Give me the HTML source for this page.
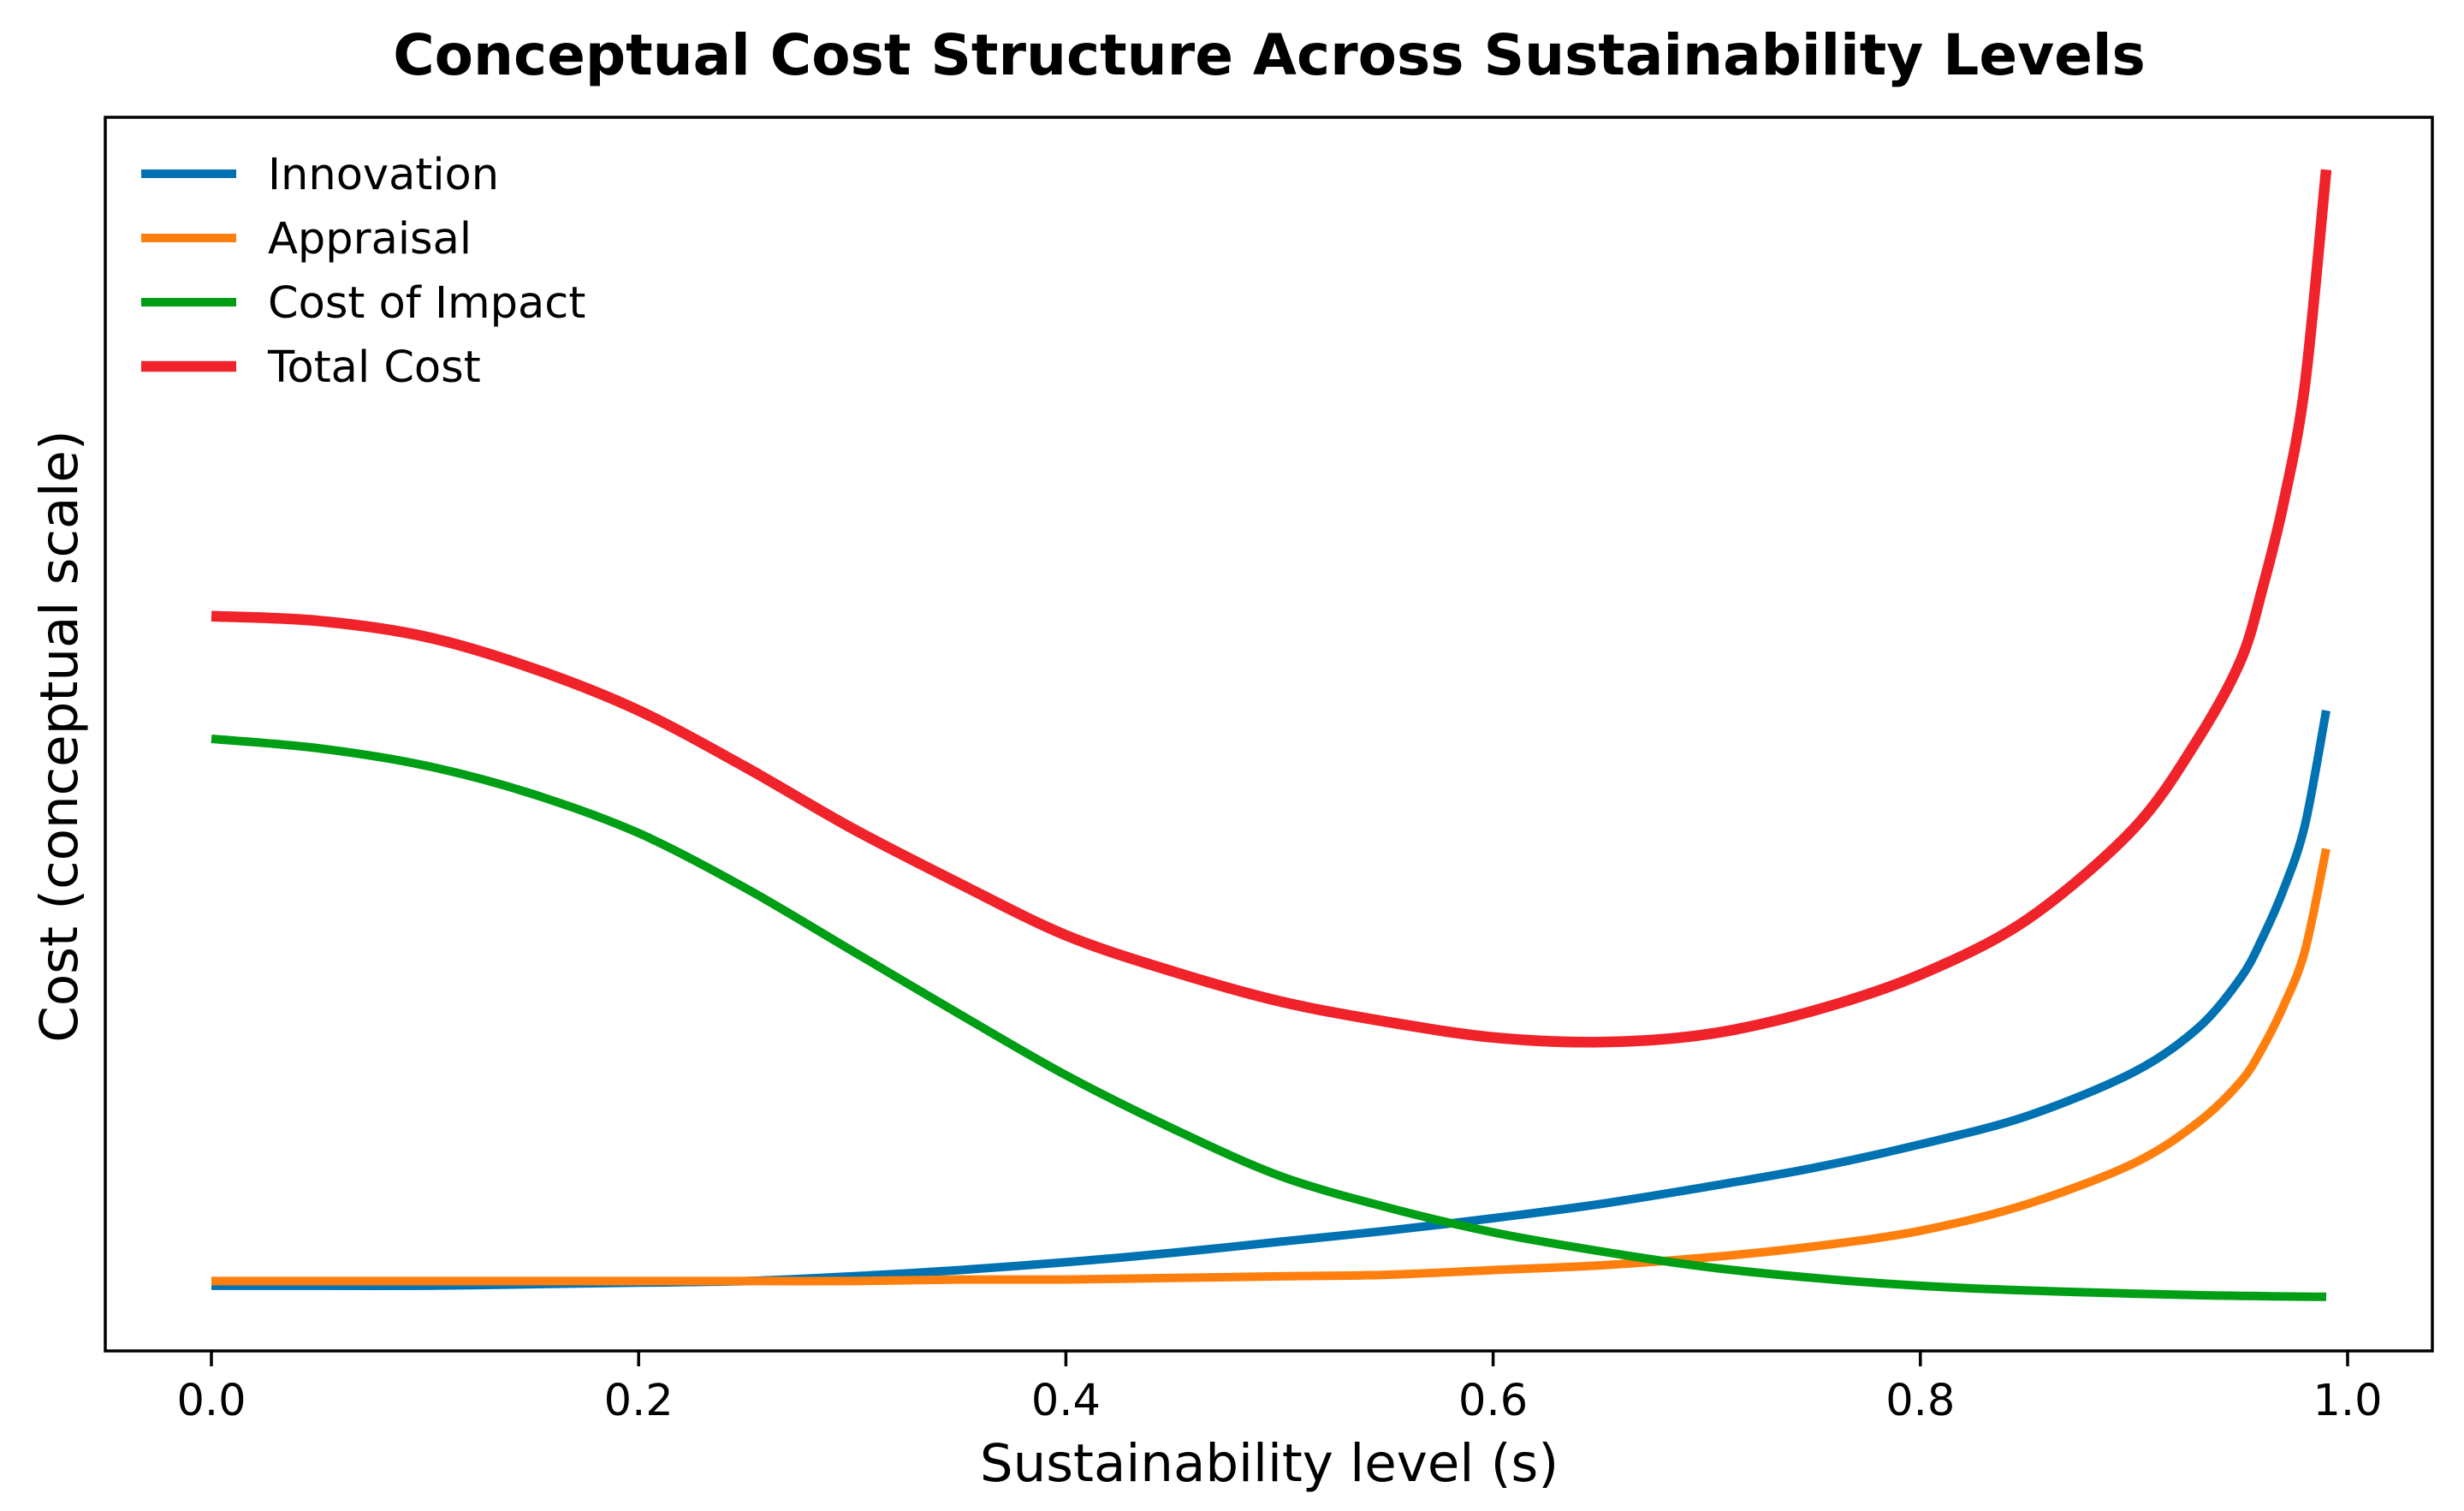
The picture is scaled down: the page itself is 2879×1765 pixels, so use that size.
<!DOCTYPE html>
<html><head><meta charset="utf-8"><style>
html,body{margin:0;padding:0;background:#fff}
svg{display:block;font-family:"DejaVu Sans","Liberation Sans",sans-serif}
</style></head><body>
<svg id="chart" width="2879" height="1765" viewBox="0 0 2879 1765" xmlns="http://www.w3.org/2000/svg">
<rect x="0" y="0" width="2879" height="1765" fill="#fff"/>
<text x="1483" y="87" text-anchor="middle" font-size="66" font-weight="bold">Conceptual Cost Structure Across Sustainability Levels</text>
<g id="plot"></g>
<rect x="123" y="137" width="2719" height="1441" fill="none" stroke="#000" stroke-width="3.5"/>
<g id="xticks"></g>
<text x="1483" y="1730" text-anchor="middle" font-size="61">Sustainability level (s)</text>
<text transform="translate(90,860) rotate(-90)" text-anchor="middle" font-size="61">Cost (conceptual scale)</text>
<g id="legend"></g>
</svg>
<script>
const sVals=[0,0.05,0.1,0.15,0.2,0.25,0.3,0.35,0.4,0.45,0.5,0.55,0.6,0.65,0.7,0.75,0.8,0.85,0.9,0.93,0.95,0.96,0.97,0.98,0.99];
const innovation=[0.12,0.12,0.12,0.13,0.14,0.15,0.18,0.22,0.27,0.33,0.40,0.47,0.55,0.64,0.75,0.87,1.02,1.20,1.48,1.76,2.08,2.33,2.64,3.05,3.78];
const appraisal=[0.15,0.15,0.15,0.15,0.15,0.15,0.15,0.16,0.16,0.17,0.18,0.19,0.22,0.25,0.30,0.37,0.47,0.64,0.90,1.16,1.42,1.63,1.90,2.25,2.90];
const impact=[3.60,3.54,3.43,3.25,3.00,2.65,2.25,1.85,1.46,1.12,0.82,0.62,0.46,0.34,0.24,0.17,0.12,0.09,0.07,0.06,0.056,0.054,0.052,0.051,0.05];
const total=[4.38,4.35,4.25,4.05,3.78,3.42,3.03,2.68,2.35,2.12,1.93,1.80,1.70,1.67,1.72,1.87,2.10,2.45,3.03,3.60,4.10,4.55,5.10,5.85,7.22];
const xTicks=[0,0.2,0.4,0.6,0.8,1.0];
const xTickLabels=["0.0","0.2","0.4","0.6","0.8","1.0"];
const seriesNames=["Innovation","Appraisal","Cost of Impact","Total Cost"];
const NS="http://www.w3.org/2000/svg";
const xPix=s=>247+s*2496;
const yPix=v=>(830-v*100)*1.8361;
function mk(t,a){const e=document.createElementNS(NS,t);for(const k in a)e.setAttribute(k,a[k]);return e;}
function smoothPath(pts){
  let d='M'+pts[0][0].toFixed(1)+','+pts[0][1].toFixed(1);
  for(let i=0;i<pts.length-1;i++){
    const p0=pts[Math.max(0,i-1)],p1=pts[i],p2=pts[i+1],p3=pts[Math.min(pts.length-1,i+2)];
    const t=0.16;
    const c1=[p1[0]+(p2[0]-p0[0])*t,p1[1]+(p2[1]-p0[1])*t];
    const c2=[p2[0]-(p3[0]-p1[0])*t,p2[1]-(p3[1]-p1[1])*t];
    d+=' C'+c1[0].toFixed(1)+','+c1[1].toFixed(1)+' '+c2[0].toFixed(1)+','+c2[1].toFixed(1)+' '+p2[0].toFixed(1)+','+p2[1].toFixed(1);
  }
  return d;
}
const plot=document.getElementById('plot');
const series=[[innovation,'#0072b2',10,'innovation-line'],[appraisal,'#ff7f0e',10,'appraisal-line'],[impact,'#009e14',10,'impact-line'],[total,'#f0222a',12.5,'total-cost-line']];
series.forEach(([vals,col,w,name])=>{
  const pts=vals.map((v,i)=>[xPix(sVals[i]),yPix(v)]);
  const p=mk('path',{d:smoothPath(pts),fill:'none',stroke:col,'stroke-width':w,'stroke-linejoin':'round'});
  
  
  plot.appendChild(p);
});
const xt=document.getElementById('xticks');
xTicks.forEach((t,i)=>{
  const x=xPix(t);
  const l=mk('line',{x1:x,x2:x,y1:1578,y2:1596,stroke:'#000','stroke-width':3.5});
  
  
  xt.appendChild(l);
  const tx=mk('text',{x:x,y:1653,'text-anchor':'middle','font-size':51});
  
  
  tx.textContent=xTickLabels[i];
  xt.appendChild(tx);
});
const lg=document.getElementById('legend');
series.forEach(([vals,col,w,name],i)=>{
  const y=203+i*75;
  const l=mk('line',{x1:165,x2:276,y1:y,y2:y,stroke:col,'stroke-width':w});
  
  
  lg.appendChild(l);
  const tx=mk('text',{x:313,y:y+18,'font-size':51});
  
  
  tx.textContent=seriesNames[i];
  lg.appendChild(tx);
});
</script>
</body></html>
